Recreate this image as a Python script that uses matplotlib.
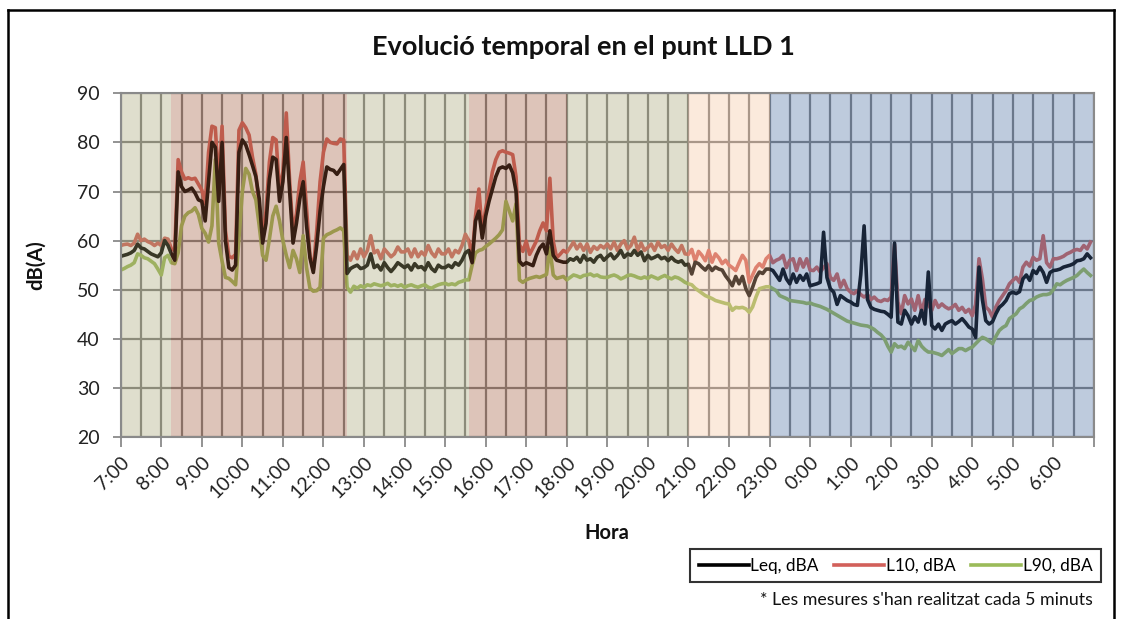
import numpy as np
import matplotlib
matplotlib.use('Agg')
import matplotlib.pyplot as plt
from matplotlib.lines import Line2D

plt.rcParams['font.family'] = ['Lato', 'DejaVu Sans']

# ---------------- data (5-minute samples from 7:00 to 6:55) ----------------
hour_labels = ['7:00', '8:00', '9:00', '10:00', '11:00', '12:00', '13:00', '14:00',
               '15:00', '16:00', '17:00', '18:00', '19:00', '20:00', '21:00', '22:00',
               '23:00', '0:00', '1:00', '2:00', '3:00', '4:00', '5:00', '6:00']

leq = [
    56.8, 57.0, 57.2, 57.5, 58.0, 59.3, 58.5, 58.3, 57.8, 57.3, 57.0, 56.7,   # 7h
    57.5, 60.0, 59.0, 57.3, 56.0, 74.0, 71.0, 70.0, 70.3, 70.7, 69.7, 68.3,   # 8h
    68.0, 64.0, 72.0, 80.0, 79.0, 68.0, 80.0, 60.0, 54.5, 54.0, 55.0, 78.0,   # 9h
    80.5, 79.5, 77.5, 75.3, 73.0, 68.5, 59.5, 63.5, 72.5, 77.0, 76.5, 68.0,   # 10h
    72.0, 81.0, 70.0, 59.5, 63.5, 68.5, 72.0, 63.0, 56.5, 53.5, 59.0, 66.0,   # 11h
    71.0, 75.0, 74.5, 74.3, 73.5, 74.5, 75.5, 53.3, 54.3, 54.7, 55.0, 54.3,   # 12h
    54.5, 55.0, 57.3, 54.5, 55.0, 54.0, 55.5, 54.5, 53.7, 54.5, 55.5, 55.0,   # 13h
    54.5, 55.0, 54.0, 55.3, 54.5, 54.7, 54.0, 55.5, 54.3, 53.7, 55.0, 54.5,   # 14h
    54.5, 55.0, 54.5, 55.5, 55.0, 56.0, 57.5, 58.0, 55.5, 64.0, 66.0, 60.5,   # 15h
    65.0, 68.0, 70.5, 73.0, 74.7, 75.0, 74.7, 75.4, 73.8, 70.0, 55.8, 55.0,   # 16h
    55.5, 55.2, 54.9, 57.0, 58.5, 59.3, 57.3, 62.0, 57.0, 56.0, 55.8, 55.6,   # 17h
    55.6, 56.3, 56.0, 56.6, 55.6, 57.0, 56.0, 56.3, 55.6, 56.6, 57.0, 56.0,   # 18h
    56.7, 57.3, 56.3, 57.0, 58.0, 56.6, 57.3, 57.0, 58.0, 57.0, 57.7, 55.9,   # 19h
    57.0, 56.3, 56.6, 57.0, 56.3, 56.6, 55.9, 56.6, 55.9, 55.6, 55.9, 55.0,   # 20h
    55.2, 53.2, 55.6, 55.3, 54.6, 54.0, 54.9, 53.9, 54.6, 54.2, 54.0, 52.8,   # 21h
    51.9, 50.8, 52.7, 51.2, 52.7, 50.2, 48.8, 50.5, 52.5, 53.6, 53.3, 54.2,   # 22h
    54.2, 53.9, 52.9, 51.9, 54.2, 52.2, 51.2, 53.2, 51.5, 52.9, 51.9, 53.2,   # 23h
    50.8, 51.0, 51.2, 51.5, 61.7, 52.5, 50.2, 49.5, 47.0, 48.8, 48.3, 47.8,   # 0h
    47.5, 47.0, 46.8, 53.0, 63.0, 48.0, 46.4, 46.0, 45.8, 45.6, 45.5, 45.0,   # 1h
    44.4, 59.5, 43.4, 43.0, 45.8, 44.7, 43.0, 44.5, 43.4, 45.8, 43.0, 53.6,   # 2h
    42.7, 42.0, 43.0, 41.7, 43.0, 43.4, 43.7, 43.0, 43.5, 44.1, 43.3, 42.4,   # 3h
    42.0, 40.3, 54.6, 48.0, 43.7, 43.0, 43.5, 45.1, 46.4, 47.0, 47.8, 49.2,   # 4h
    49.5, 49.2, 49.6, 52.2, 53.0, 51.9, 53.9, 53.3, 54.6, 53.5, 51.5, 53.5,   # 5h
    53.9, 54.0, 54.2, 54.6, 54.8, 55.0, 55.3, 55.9, 56.0, 56.3, 57.3, 56.5,   # 6h
]

l10 = [
    59.0, 59.2, 59.3, 59.0, 59.5, 61.3, 60.0, 60.3, 59.8, 59.5, 59.0, 59.5,   # 7h
    59.0, 60.5, 60.3, 58.3, 58.0, 76.5, 74.0, 72.5, 72.8, 72.5, 72.7, 71.5,   # 8h
    70.3, 67.5, 78.0, 83.3, 83.0, 71.5, 83.3, 62.0, 56.8, 56.5, 57.2, 82.5,   # 9h
    84.0, 83.0, 81.5, 77.0, 73.5, 67.0, 60.5, 66.0, 76.0, 81.0, 80.5, 70.0,   # 10h
    74.0, 86.0, 72.0, 61.5, 65.5, 72.0, 76.0, 66.5, 57.0, 54.0, 62.0, 72.0,   # 11h
    78.0, 80.7, 80.0, 79.8, 79.7, 80.7, 80.5, 57.0, 56.0, 57.7, 56.3, 58.3,   # 12h
    56.7, 58.0, 61.0, 57.5, 58.0, 56.3, 58.3, 57.5, 56.7, 57.3, 58.7, 57.7,   # 13h
    57.7, 58.3, 56.7, 58.3, 56.7, 57.7, 57.0, 59.0, 57.5, 56.7, 58.3, 57.3,   # 14h
    57.3, 58.3, 56.7, 58.0, 57.5, 59.0, 61.3, 60.0, 56.7, 65.0, 70.5, 61.5,   # 15h
    66.5, 70.0, 74.0, 76.5, 78.0, 78.3, 78.0, 77.8, 77.5, 73.0, 59.2, 57.8,   # 16h
    59.9, 57.2, 58.5, 59.9, 62.0, 63.6, 62.0, 72.7, 59.9, 56.5, 57.2, 58.0,   # 17h
    57.6, 58.6, 59.7, 58.3, 59.3, 58.0, 59.3, 57.6, 58.8, 58.2, 59.0, 58.5,   # 18h
    59.3, 58.3, 59.7, 58.0, 59.3, 60.0, 58.3, 59.0, 60.7, 58.0, 59.5, 58.0,   # 19h
    58.6, 59.3, 58.0, 59.7, 58.6, 59.0, 58.0, 59.3, 58.3, 57.6, 59.0, 57.3,   # 20h
    57.2, 58.2, 55.8, 57.8, 57.0, 55.9, 58.0, 55.6, 57.3, 56.5, 55.3, 56.0,   # 21h
    55.0, 54.5, 53.9, 55.5, 57.0, 56.0, 51.5, 53.0, 54.5, 55.3, 54.6, 56.3,   # 22h
    57.0, 55.5, 56.0, 56.3, 57.0, 54.5, 56.0, 56.3, 53.9, 56.3, 54.6, 56.3,   # 23h
    54.0, 53.9, 54.6, 53.6, 54.5, 55.3, 52.5, 51.9, 53.2, 50.5, 51.9, 50.2,   # 0h
    49.5, 49.2, 49.8, 49.0, 48.5, 49.0, 48.0, 48.5, 47.8, 47.6, 48.0, 47.8,   # 1h
    48.5, 59.2, 47.5, 45.1, 48.8, 47.1, 48.1, 45.8, 48.8, 45.5, 48.0, 47.0,   # 2h
    45.8, 47.8, 46.4, 47.1, 46.5, 46.1, 46.4, 47.0, 45.8, 46.4, 45.4, 46.0,   # 3h
    44.7, 47.0, 56.3, 52.2, 46.5, 45.8, 44.4, 46.5, 47.8, 48.8, 49.8, 51.2,   # 4h
    51.9, 52.5, 51.5, 54.6, 55.6, 54.8, 56.6, 56.0, 56.3, 61.0, 55.5, 54.6,   # 5h
    56.3, 56.3, 56.5, 56.8, 57.3, 57.6, 58.0, 58.2, 58.0, 59.0, 58.3, 59.7,   # 6h
]

l90 = [
    54.0, 54.3, 54.7, 55.0, 55.5, 57.3, 57.0, 56.5, 56.3, 55.8, 55.3, 54.2,   # 7h
    53.0, 56.5, 57.0, 55.5, 55.3, 57.5, 63.0, 65.0, 65.7, 66.0, 66.7, 65.3,   # 8h
    62.5, 61.5, 59.7, 63.0, 76.5, 59.5, 55.8, 52.5, 52.3, 51.7, 51.0, 60.5,   # 9h
    70.0, 74.7, 73.5, 70.0, 68.3, 63.0, 57.0, 56.0, 60.3, 65.0, 67.0, 64.0,   # 10h
    60.0, 57.0, 54.5, 58.0, 56.3, 53.5, 61.0, 54.5, 50.3, 49.7, 49.8, 50.5,   # 11h
    60.5, 61.2, 61.5, 61.9, 62.2, 62.6, 62.0, 50.5, 49.5, 50.7, 50.3, 50.8,   # 12h
    50.5, 51.0, 50.8, 51.2, 51.0, 50.8, 51.0, 51.3, 50.8, 51.0, 50.7, 51.0,   # 13h
    50.5, 50.8, 51.0, 50.7, 50.5, 50.8, 51.0, 50.5, 50.3, 50.7, 51.0, 51.2,   # 14h
    51.3, 51.0, 51.2, 51.0, 51.5, 51.7, 52.0, 52.0, 55.0, 57.5, 58.0, 58.2,   # 15h
    58.8, 59.3, 59.9, 60.5, 61.2, 62.2, 68.0, 66.0, 64.0, 67.5, 52.0, 51.5,   # 16h
    52.0, 52.3, 52.5, 52.7, 52.5, 52.8, 53.1, 58.5, 53.0, 52.3, 52.5, 52.7,   # 17h
    52.0, 52.5, 53.0, 52.8, 52.5, 52.9, 53.0, 53.2, 52.8, 53.0, 52.6, 52.5,   # 18h
    52.5, 52.8, 53.0, 52.7, 52.2, 52.5, 52.9, 53.0, 52.8, 52.5, 52.3, 52.6,   # 19h
    52.3, 52.8, 52.5, 52.2, 52.6, 52.9, 52.5, 52.2, 52.6, 52.4, 52.0, 51.5,   # 20h
    51.2, 51.0, 50.3, 49.8, 49.3, 48.8, 48.5, 48.2, 47.8, 47.6, 47.4, 47.2,   # 21h
    47.1, 45.8, 46.4, 46.3, 46.4, 46.1, 45.4, 46.5, 48.5, 50.2, 50.4, 50.6,   # 22h
    50.6, 50.2, 49.8, 48.8, 48.5, 48.2, 47.8, 47.7, 47.6, 47.5, 47.4, 47.2,   # 23h
    47.3, 47.0, 46.8, 46.6, 46.3, 46.0, 45.6, 45.2, 44.8, 44.4, 44.0, 43.6,   # 0h
    43.4, 43.2, 43.0, 42.8, 42.7, 42.6, 42.3, 41.9, 41.3, 40.8, 40.0, 38.5,   # 1h
    37.3, 39.0, 38.3, 38.5, 38.0, 39.3, 38.5, 37.6, 39.7, 38.5, 37.8, 37.3,   # 2h
    37.3, 37.1, 36.9, 36.6, 37.2, 37.8, 37.0, 37.5, 38.0, 38.0, 37.6, 38.0,   # 3h
    38.3, 39.0, 39.7, 40.3, 40.0, 39.5, 39.0, 40.5, 41.7, 42.3, 42.7, 44.1,   # 4h
    44.6, 45.1, 46.1, 46.5, 47.2, 47.8, 48.0, 48.5, 48.8, 49.0, 49.0, 49.2,   # 5h
    50.0, 51.2, 51.0, 51.5, 51.9, 52.2, 52.5, 52.9, 53.6, 54.2, 53.5, 52.9,   # 6h
]

series_names = ['Leq, dBA', 'L10, dBA', 'L90, dBA']

# shaded periods (hours after 7:00)
period_start = [0.0, 1.25, 5.583, 8.583, 11.0, 14.0, 16.0]
period_end = [1.25, 5.583, 8.583, 11.0, 14.0, 16.0, 24.0]
period_color = ['#a4a170', '#9e5737', '#a4a170', '#9e5737', '#a4a170', '#f6c39b', '#456aa0']

# ---------------- figure ----------------
W, H = 1122, 619
fig = plt.figure(figsize=(W / 100, H / 100), dpi=100)
fig.patch.set_facecolor('white')

L, R, T, B = 120.7, 1093.9, 93.3, 437.0
ax = fig.add_axes([L / W, 1 - B / H, (R - L) / W, (B - T) / H])
ax.set_facecolor('white')
ax.set_axisbelow(True)

x = np.arange(len(leq)) / 12.0
colors = ['#000000', '#d2605a', '#9bbb59']
zs = [3.3, 3.0, 3.1]
for vals, c, z, name in zip([leq, l10, l90], colors, zs, series_names):
    ax.plot(x, vals, color=c, lw=2.6, solid_joinstyle='round', zorder=z, label=name)

for s, e, c in zip(period_start, period_end, period_color):
    ax.axvspan(s, e, color=c, alpha=0.35, lw=0, zorder=4)

ax.set_xlim(0, 24)
ax.set_ylim(20, 90)
ax.set_yticks(np.arange(20, 91, 10))
ax.set_xticks(np.arange(0, 25, 1))
ax.set_xticklabels(hour_labels + [''], rotation=45, ha='right', rotation_mode='anchor',
                   fontsize=14, color='#222222')
ax.set_xticks(np.arange(0, 24.01, 0.5), minor=True)
ax.tick_params(axis='x', which='major', length=7, width=1.3, color='#8a8a8a', pad=5)
ax.tick_params(axis='x', which='minor', length=0)
ax.tick_params(axis='y', which='major', length=6, width=1.3, color='#8a8a8a', pad=9,
               labelsize=14, labelcolor='#222222')
ax.grid(which='both', axis='x', color='#808080', lw=1.6)
ax.grid(which='major', axis='y', color='#808080', lw=1.6)
for sp in ax.spines.values():
    sp.set_color('#8a8a8a')
    sp.set_linewidth(1.5)
    sp.set_zorder(4.5)

fig.text(583 / W, 1 - 47 / H, 'Evolució temporal en el punt LLD 1', ha='center', va='center',
         fontsize=19.5, fontweight='bold', color='#111111')
fig.text(36 / W, 1 - 265 / H, 'dB(A)', ha='center', va='center', rotation=90,
         fontsize=14.5, fontweight='bold', color='#111111')
fig.text(607 / W, 1 - 533 / H, 'Hora', ha='center', va='center',
         fontsize=14.5, fontweight='bold', color='#111111')
fig.text(1093 / W, 1 - 600 / H, "* Les mesures s'han realitzat cada 5 minuts",
         ha='right', va='center', fontsize=12.8, color='#111111')

handles = [Line2D([0], [0], color=c, lw=2.6) for c in colors]
leg = fig.legend(handles, series_names, loc='upper right', ncol=3,
                 bbox_to_anchor=(1101 / W, 1 - 549 / H), fontsize=12.4,
                 frameon=True, fancybox=False, edgecolor='black', borderaxespad=0,
                 handlelength=2.9, handletextpad=0.1, columnspacing=0.9,
                 borderpad=0.5)
leg.get_frame().set_linewidth(1.5)

# outer frame of the chart (top, left, right)
fl = dict(transform=fig.transFigure, color='black', lw=1.8)
fig.add_artist(Line2D([8 / W, 1114 / W], [1 - 10 / H, 1 - 10 / H], **fl))
fig.add_artist(Line2D([8 / W, 8 / W], [0, 1 - 10 / H], **fl))
fig.add_artist(Line2D([1114 / W, 1114 / W], [0, 1 - 10 / H], **fl))

fig.savefig('out.png', dpi=100)
